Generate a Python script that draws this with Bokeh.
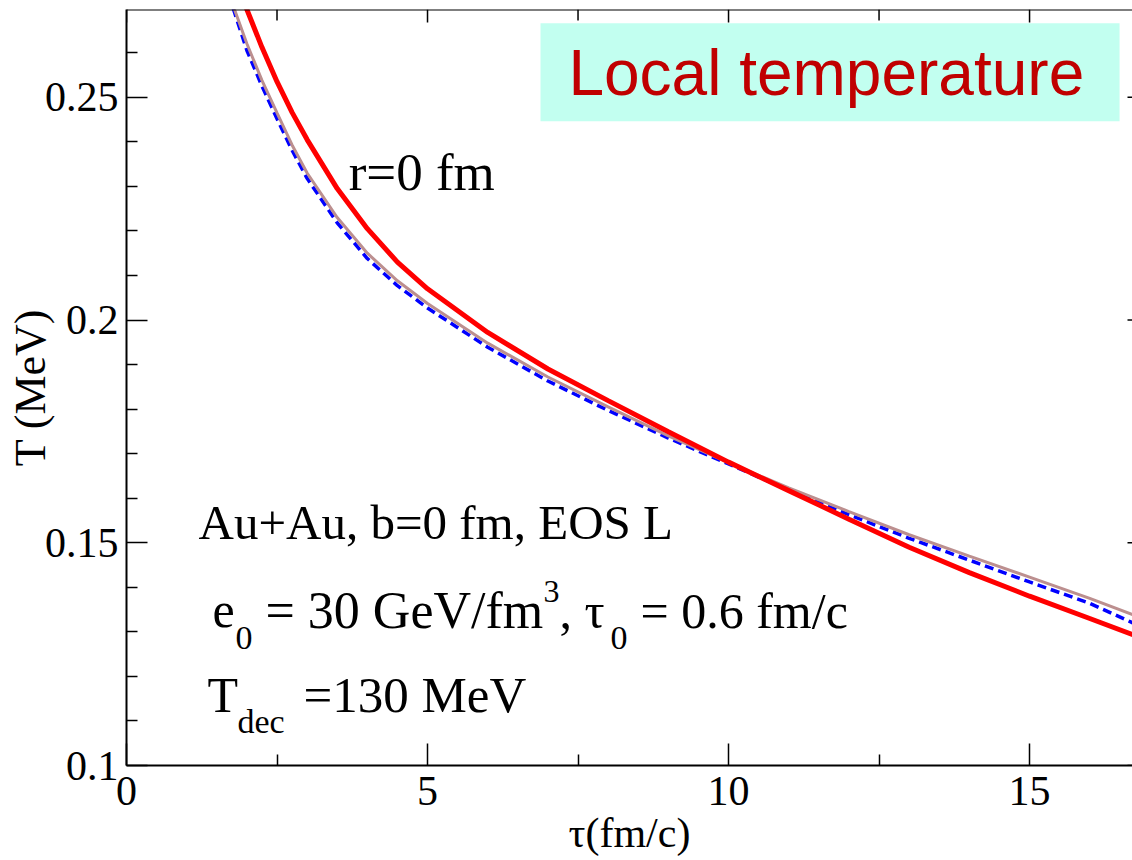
import math
from bokeh.plotting import figure
from bokeh.models import (LinearAxis, FixedTicker, Range1d, Label, BoxAnnotation, Span)
from bokeh.embed import file_html
from bokeh.resources import INLINE

# ---------------- data ----------------
tau = [1.7, 1.8, 2.0, 2.25, 2.5, 2.75, 3.0, 3.5, 4.0, 4.5, 5.0, 6.0, 7.0, 8.0,
       9.0, 10.0, 11.0, 12.0, 13.0, 14.0, 15.0, 16.0, 16.75]
T_red = [0.2815, 0.2775, 0.2697, 0.2612, 0.2535, 0.2466, 0.2405, 0.2295, 0.2205,
         0.2130, 0.2070, 0.1972, 0.1890, 0.1819, 0.1749, 0.1681, 0.1617, 0.1553,
         0.1490, 0.1433, 0.1380, 0.1330, 0.1292]
T_blue = [0.2730, 0.2688, 0.2605, 0.2525, 0.2452, 0.2381, 0.2318, 0.2218, 0.2138,
          0.2077, 0.2027, 0.1939, 0.1863, 0.1797, 0.1735, 0.1677, 0.1618, 0.1563,
          0.1510, 0.1461, 0.1412, 0.1364, 0.1318]
T_tan = [0.2737, 0.2695, 0.2620, 0.2538, 0.2465, 0.2393, 0.2330, 0.2230, 0.2150,
         0.2088, 0.2037, 0.1948, 0.1872, 0.1805, 0.1740, 0.1680, 0.1623, 0.1570,
         0.1518, 0.1470, 0.1423, 0.1375, 0.1337]

x_ticks = [0, 5, 10, 15]
x_tick_labels = ["0", "5", "10", "15"]
x_minor = [2.5, 7.5, 12.5]
y_ticks = [0.1, 0.15, 0.2, 0.25]
y_tick_labels = ["0.1", "0.15", "0.2", "0.25"]
y_minor = [0.11, 0.12, 0.13, 0.14, 0.16, 0.17, 0.18, 0.19, 0.21, 0.22, 0.23, 0.24, 0.26]

X_MIN, X_MAX = 0, 16.71
Y_MIN, Y_MAX = 0.1, 0.2697

SERIF = "Liberation Serif"
SANS = "Liberation Sans"

p = figure(width=1132, height=860, output_backend="svg", toolbar_location=None,
           x_range=Range1d(X_MIN, X_MAX), y_range=Range1d(Y_MIN, Y_MAX),
           x_axis_type=None, y_axis_type=None,
           min_border_left=126, min_border_top=9, min_border_right=0,
           min_border_bottom=95)
p.outline_line_color = None
p.background_fill_color = "white"
p.border_fill_color = "white"
p.xgrid.visible = False
p.ygrid.visible = False

# ---------------- annotation box ----------------
p.add_layout(BoxAnnotation(left=6.877, right=16.495, bottom=0.24459, top=0.26659,
                           fill_color="#c2fff0", fill_alpha=1.0, line_color=None,
                           level="underlay"))

# ---------------- curves ----------------
p.line(tau, T_blue, line_color="#0000ff", line_width=3.5, line_dash="9 5")
p.line(tau, T_tan, line_color="#bc8f8f", line_width=3)
p.line(tau, T_red, line_color="#ff0000", line_width=5)

# ---------------- axes ----------------
def style(ax, major_in, minor_in):
    ax.major_tick_in = major_in
    ax.major_tick_out = 0
    ax.minor_tick_in = minor_in
    ax.minor_tick_out = 0
    ax.axis_line_width = 2
    ax.axis_line_color = "black"
    ax.major_tick_line_width = 1.5
    ax.minor_tick_line_width = 1.5
    ax.major_tick_line_color = "black"
    ax.minor_tick_line_color = "black"
    ax.major_label_text_color = "black"
    ax.axis_label_text_color = "black"

xb = LinearAxis(ticker=FixedTicker(ticks=x_ticks, minor_ticks=x_minor),
                axis_label="τ(fm/c)",
                major_label_overrides={t: l for t, l in zip(x_ticks, x_tick_labels)})
style(xb, 22, 11)
xb.major_label_text_font = SERIF
xb.major_label_text_font_size = "42px"
xb.major_label_standoff = 11
xb.axis_label_text_font = SERIF
xb.axis_label_text_font_size = "42px"
xb.axis_label_text_font_style = "normal"
xb.axis_label_standoff = 2
p.add_layout(xb, "below")

yl = LinearAxis(ticker=FixedTicker(ticks=y_ticks, minor_ticks=y_minor),
                axis_label="T (MeV)",
                major_label_overrides={t: l for t, l in zip(y_ticks, y_tick_labels)})
style(yl, 21, 11)
yl.major_label_text_font = SERIF
yl.major_label_text_font_size = "42px"
yl.major_label_standoff = 8
yl.axis_label_text_font = SERIF
yl.axis_label_text_font_size = "44px"
yl.axis_label_text_font_style = "normal"
yl.axis_label_standoff = -13
p.add_layout(yl, "left")

# top frame line and mirrored ticks (top and right), no labels
p.add_layout(Span(location=Y_MAX, dimension="width", line_color="black", line_width=2))
p.ray(x=x_ticks, y=[Y_MAX] * len(x_ticks), length=13, length_units="screen",
      angle=-math.pi / 2, line_color="black", line_width=1.5)
p.ray(x=x_minor, y=[Y_MAX] * len(x_minor), length=11, length_units="screen",
      angle=-math.pi / 2, line_color="black", line_width=1.5)
p.ray(x=[X_MAX] * len(y_ticks), y=y_ticks, length=5, length_units="screen",
      angle=math.pi, line_color="black", line_width=1.5)

# ---------------- text annotations ----------------
def lab(x, y, text, size, font=SERIF, color="black"):
    p.add_layout(Label(x=x, y=y, text=text, text_font=font,
                       text_font_size=f"{size}px", text_color=color,
                       text_align="left", text_baseline="alphabetic"))

lab(7.34, 0.25536, "Local temperature", 64, font=SANS, color="#c00000")
lab(3.69, 0.23314, "r=0 fm", 53)
lab(1.196, 0.15445, "Au+Au, b=0 fm, EOS L", 49)

lab(1.429, 0.13469, "e", 50)
lab(1.811, 0.12851, "0", 34)
lab(2.309, 0.13469, "= 30 GeV/fm", 52)
lab(6.927, 0.13907, "3", 32)
lab(7.193, 0.13469, ", τ", 50)
lab(8.04, 0.12851, "0", 34)
lab(8.538, 0.13469, "= 0.6 fm/c", 50)

lab(1.346, 0.11583, "T", 50)
lab(1.844, 0.10988, "dec", 34)
lab(2.940, 0.11583, "=130 MeV", 51)

open("out.html", "w").write(file_html(p, INLINE))
